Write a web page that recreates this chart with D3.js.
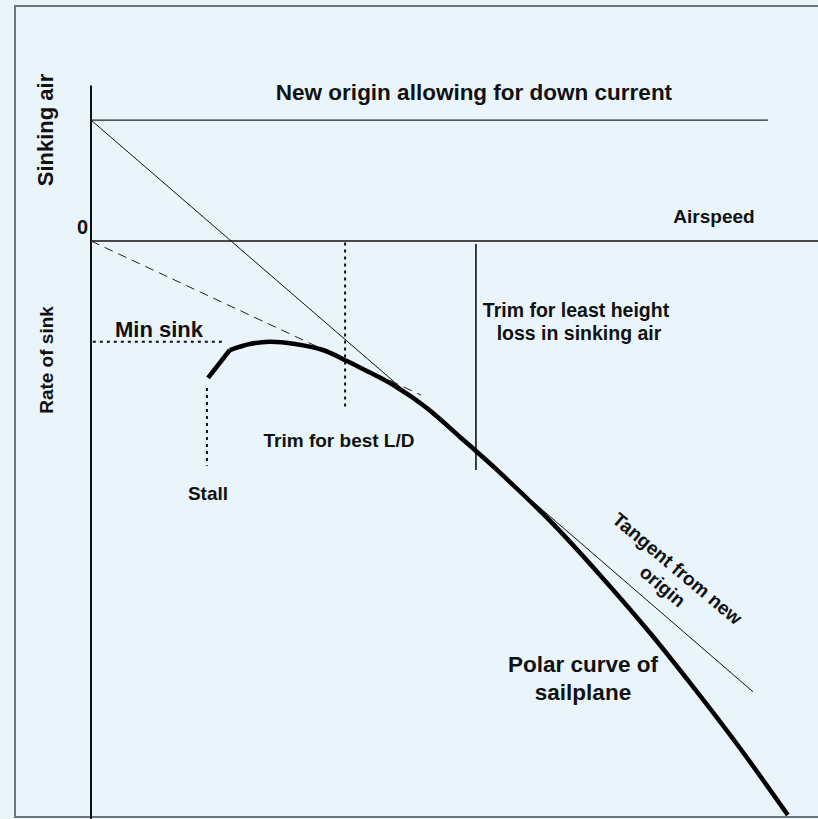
<!DOCTYPE html>
<html>
<head>
<meta charset="utf-8">
<script src="https://cdn.jsdelivr.net/npm/d3@7"></script>
<style>
  body { margin: 0; background: #e9f4fb; }
  text { font-family: "Liberation Sans", Arial, Helvetica, sans-serif; font-weight: bold; fill: #111; }
</style>
</head>
<body>
<script>
// polar curve of the sailplane (airspeed km/h, rate of sink m/s, sink positive downwards)
var polarSpeed = [32.2, 38.2, 43.7, 49.2, 56.1, 63.8, 70.4, 74.8, 83.6, 92.4, 101.5, 105.9, 111.1, 126.3, 140.0, 153.8, 164.8, 178.5, 191.7];
var polarSink  = [0.95, 0.757, 0.715, 0.70, 0.715, 0.757, 0.833, 0.889, 1.007, 1.16, 1.361, 1.458, 1.576, 1.944, 2.319, 2.722, 3.069, 3.521, 3.986];

// down current shifts the origin up
var newOriginSink = -0.84;
var newOriginLine = [[0, newOriginSink], [186.2, newOriginSink]];
var tangentNew = [[0, newOriginSink], [182.1, 3.13]];   // tangent from new origin
var tangentZero = [[0, 0], [90.8, 1.07]];               // tangent from 0 (best L/D)
var airspeedAxis = [[0, 0], [200, 0]];
var sinkAxis = [[0, -1.08], [0, 4.02]];

// trim markers
var minSinkLine = [[0.5, 0.70], [37.1, 0.70]];
var stallLine = [[31.9, 1.02], [31.9, 1.56]];
var bestLDLine = [[69.9, 0.01], [69.9, 1.17]];
var leastHeightLine = [[105.9, 0.02], [105.9, 1.59]];

var w = 818, h = 819;

var svg = d3.select("body").append("svg")
	.attr("width", w)
	.attr("height", h);

//background and frame
svg.append("rect")
	.attr("width", w).attr("height", h)
	.style("fill", "#e9f4fb");
svg.append("rect")
	.attr("x", 15).attr("y", 6)
	.attr("width", 830).attr("height", 811)
	.style("fill", "none")
	.style("stroke", "#6f757b")
	.style("stroke-width", 2);

var x = d3.scaleLinear().domain([0, 200]).range([91, 818]);
var y = d3.scaleLinear().domain([0, 4]).range([241, 817]);

var line = d3.line()
	.x(function(d){ return x(d[0]); })
	.y(function(d){ return y(d[1]); });

function drawLine(pts, width, color, dash){
	var p = svg.append("path")
		.datum(pts)
		.attr("d", line)
		.style("fill", "none")
		.style("stroke", color)
		.style("stroke-width", width);
	if (dash) p.style("stroke-dasharray", dash);
	return p;
}

//axes and construction lines
drawLine(sinkAxis, 2, "#111");
drawLine(airspeedAxis, 1.6, "#111");
drawLine(newOriginLine, 1.3, "#222");
drawLine(tangentNew, 1, "#111");
drawLine(tangentZero, 1, "#222", "9,6");
drawLine(minSinkLine, 2, "#111", "3,4");
drawLine(stallLine, 2, "#111", "3,4");
drawLine(bestLDLine, 2, "#111", "3,4");
drawLine(leastHeightLine, 1.6, "#111");

//polar curve: straight stall leg, then smooth curve
var polar = polarSpeed.map(function(s, i){ return [s, polarSink[i]]; });
drawLine(polar.slice(0, 2), 4.5, "#000").style("stroke-linecap", "butt");
var smooth = d3.line()
	.x(function(d){ return x(d[0]); })
	.y(function(d){ return y(d[1]); })
	.curve(d3.curveCatmullRom.alpha(0.5));
svg.append("path")
	.datum(polar.slice(1))
	.attr("d", smooth)
	.style("fill", "none")
	.style("stroke", "#000")
	.style("stroke-width", 4.5)
	.style("stroke-linejoin", "round");

//labels
function label(txt, px, py, size, anchor){
	return svg.append("text")
		.attr("x", px).attr("y", py)
		.attr("text-anchor", anchor || "middle")
		.style("font-size", size + "px")
		.text(txt);
}

label("New origin allowing for down current", 474, 100, 22.5);
label("Airspeed", 714, 223, 19);
label("0", 88, 234, 20, "end");
label("Min sink", 115, 337, 22, "start");
label("Stall", 208, 500, 19);
label("Trim for best L/D", 339, 447, 19);
label("Trim for least height", 576, 317, 19.5);
label("loss in sinking air", 579, 340, 19.5);
label("Polar curve of", 583, 672, 22.5);
label("sailplane", 583, 700, 22.5);

svg.append("text")
	.attr("transform", "translate(53,130) rotate(-90)")
	.attr("text-anchor", "middle")
	.style("font-size", "22px")
	.text("Sinking air");
svg.append("text")
	.attr("transform", "translate(53,360) rotate(-90)")
	.attr("text-anchor", "middle")
	.style("font-size", "19px")
	.text("Rate of sink");

var tangentLabel = svg.append("text")
	.attr("transform", "translate(677,569) rotate(40)")
	.attr("text-anchor", "middle")
	.style("font-size", "19px");
tangentLabel.append("tspan").attr("x", 0).attr("y", 6).text("Tangent from new");
tangentLabel.append("tspan").attr("x", 0).attr("y", 29).text("origin");
</script>
</body>
</html>
